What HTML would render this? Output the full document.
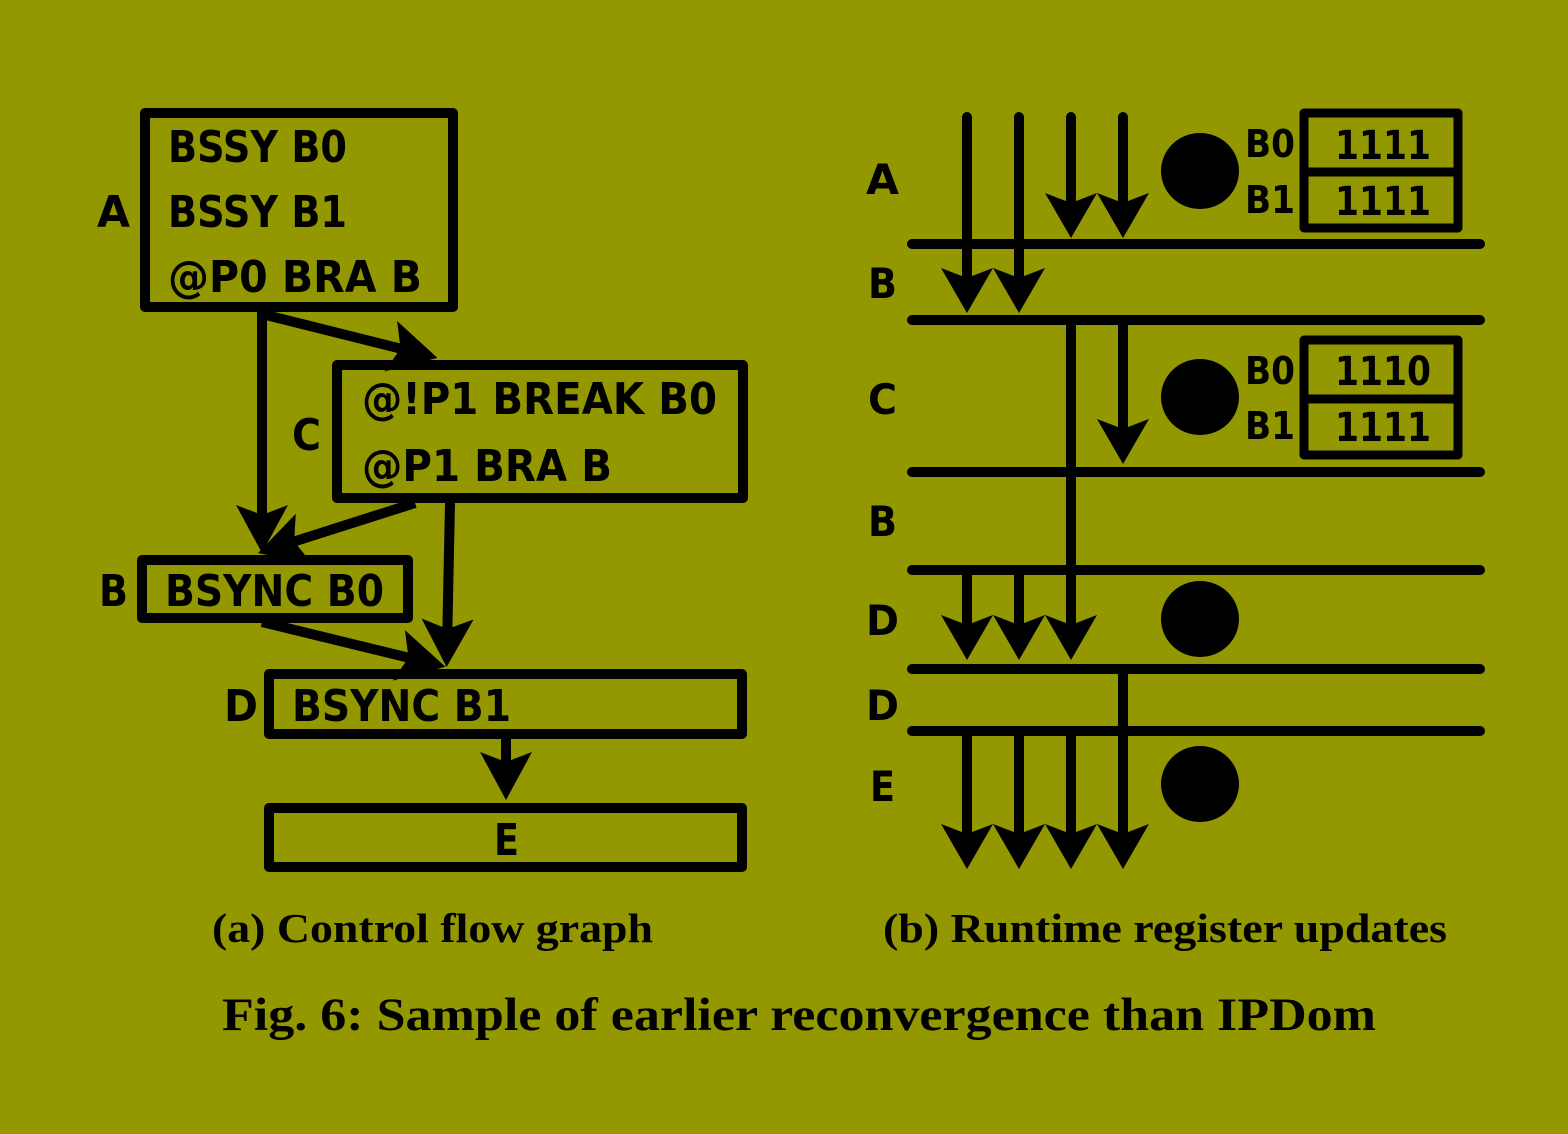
<!DOCTYPE html>
<html><head><meta charset="utf-8"><style>
html,body{margin:0;padding:0;background:#939800;}
svg{display:block;}
.t{font-family:"DejaVu Sans","Liberation Sans",sans-serif;font-weight:bold;fill:#000;}
.s{font-family:"Liberation Serif",serif;font-weight:bold;fill:#000;}
</style></head><body>
<svg width="1568" height="1134" viewBox="0 0 1568 1134" xmlns="http://www.w3.org/2000/svg">
<defs>
<marker id="ah" markerUnits="userSpaceOnUse" viewBox="-40 -30 70 60" refX="0" refY="0" markerWidth="70" markerHeight="60" orient="auto" overflow="visible">
<path d="M-28,-26 L20,0 L-28,26 L-18,0 Z" fill="#000"/>
</marker>
</defs>
<rect width="1568" height="1134" fill="#939800"/>
<g fill="none" stroke="#000" stroke-width="10" stroke-linejoin="round">
<rect x="145" y="113" width="308" height="194"/>
<rect x="337" y="365" width="406" height="133"/>
<rect x="142" y="560" width="266" height="58"/>
<rect x="269" y="674" width="473" height="60"/>
<rect x="269" y="808" width="473" height="59"/>
</g>
<g stroke="#000" stroke-width="10" marker-end="url(#ah)">
<line x1="262" y1="312" x2="262" y2="533"/>
<line x1="262" y1="314" x2="418" y2="353"/>
<line x1="415" y1="503" x2="277" y2="547"/>
<line x1="450" y1="503" x2="447" y2="647"/>
<line x1="262" y1="622" x2="426" y2="662"/>
<line x1="506" y1="739" x2="506" y2="780"/>
</g>
<text class="t" x="168" y="162" font-size="44" textLength="179" lengthAdjust="spacingAndGlyphs">BSSY B0</text>
<text class="t" x="168" y="227" font-size="44" textLength="179" lengthAdjust="spacingAndGlyphs">BSSY B1</text>
<text class="t" x="168" y="292" font-size="44" textLength="254" lengthAdjust="spacingAndGlyphs">@P0 BRA B</text>
<text class="t" x="97" y="227" font-size="44" textLength="33" lengthAdjust="spacingAndGlyphs">A</text>
<text class="t" x="362" y="414" font-size="44" textLength="355" lengthAdjust="spacingAndGlyphs">@!P1 BREAK B0</text>
<text class="t" x="362" y="481" font-size="44" textLength="250" lengthAdjust="spacingAndGlyphs">@P1 BRA B</text>
<text class="t" x="292" y="450" font-size="44" textLength="29" lengthAdjust="spacingAndGlyphs">C</text>
<text class="t" x="165" y="606" font-size="44" textLength="219" lengthAdjust="spacingAndGlyphs">BSYNC B0</text>
<text class="t" x="99" y="606" font-size="44" textLength="29" lengthAdjust="spacingAndGlyphs">B</text>
<text class="t" x="292" y="721" font-size="44" textLength="219" lengthAdjust="spacingAndGlyphs">BSYNC B1</text>
<text class="t" x="224" y="721" font-size="44" textLength="34" lengthAdjust="spacingAndGlyphs">D</text>
<text class="t" x="494" y="855" font-size="44" textLength="25" lengthAdjust="spacingAndGlyphs">E</text>

<g stroke="#000" stroke-width="10" stroke-linecap="round">
<line x1="912" y1="244" x2="1480" y2="244"/>
<line x1="912" y1="320" x2="1480" y2="320"/>
<line x1="912" y1="472" x2="1480" y2="472"/>
<line x1="912" y1="570" x2="1480" y2="570"/>
<line x1="912" y1="669" x2="1480" y2="669"/>
<line x1="912" y1="731" x2="1480" y2="731"/>
</g>
<g stroke="#000" stroke-width="10" stroke-linecap="round">
<line x1="967" y1="117" x2="967" y2="290"/>
<line x1="1019" y1="117" x2="1019" y2="290"/>
<line x1="1071" y1="117" x2="1071" y2="215"/>
<line x1="1123" y1="117" x2="1123" y2="215"/>
<line x1="1071" y1="320" x2="1071" y2="640" stroke-linecap="butt"/>
<line x1="1123" y1="320" x2="1123" y2="443" stroke-linecap="butt"/>
<line x1="967" y1="570" x2="967" y2="640" stroke-linecap="butt"/>
<line x1="1019" y1="570" x2="1019" y2="640" stroke-linecap="butt"/>
<line x1="1123" y1="669" x2="1123" y2="848" stroke-linecap="butt"/>
<line x1="967" y1="731" x2="967" y2="848" stroke-linecap="butt"/>
<line x1="1019" y1="731" x2="1019" y2="848" stroke-linecap="butt"/>
<line x1="1071" y1="731" x2="1071" y2="848" stroke-linecap="butt"/>
</g>
<g fill="#000">
<path d="M941,268 L967,278 L993,268 L967,313 Z"/>
<path d="M993,268 L1019,278 L1045,268 L1019,313 Z"/>
<path d="M1045,193 L1071,203 L1097,193 L1071,238 Z"/>
<path d="M1097,193 L1123,203 L1149,193 L1123,238 Z"/>
<path d="M1097,419 L1123,429 L1149,419 L1123,464 Z"/>
<path d="M941,615 L967,625 L993,615 L967,660 Z"/>
<path d="M993,615 L1019,625 L1045,615 L1019,660 Z"/>
<path d="M1045,615 L1071,625 L1097,615 L1071,660 Z"/>
<path d="M941,824 L967,834 L993,824 L967,869 Z"/>
<path d="M993,824 L1019,834 L1045,824 L1019,869 Z"/>
<path d="M1045,824 L1071,834 L1097,824 L1071,869 Z"/>
<path d="M1097,824 L1123,834 L1149,824 L1123,869 Z"/>
<ellipse cx="1200" cy="171" rx="39" ry="38"/>
<ellipse cx="1200" cy="397" rx="39" ry="38"/>
<ellipse cx="1200" cy="619" rx="39" ry="38"/>
<ellipse cx="1200" cy="784" rx="39" ry="38"/>
</g>
<g fill="none" stroke="#000" stroke-width="9" stroke-linejoin="round">
<rect x="1304" y="113" width="154" height="115"/>
<line x1="1304" y1="172" x2="1458" y2="172"/>
<rect x="1304" y="340" width="154" height="115"/>
<line x1="1304" y1="399" x2="1458" y2="399"/>
</g>
<text class="t" x="866" y="194" font-size="42" textLength="33" lengthAdjust="spacingAndGlyphs">A</text>
<text class="t" x="868" y="298" font-size="42" textLength="29" lengthAdjust="spacingAndGlyphs">B</text>
<text class="t" x="868" y="414" font-size="42" textLength="29" lengthAdjust="spacingAndGlyphs">C</text>
<text class="t" x="868" y="536" font-size="42" textLength="29" lengthAdjust="spacingAndGlyphs">B</text>
<text class="t" x="866" y="635" font-size="42" textLength="33" lengthAdjust="spacingAndGlyphs">D</text>
<text class="t" x="866" y="720" font-size="42" textLength="33" lengthAdjust="spacingAndGlyphs">D</text>
<text class="t" x="870" y="801" font-size="42" textLength="25" lengthAdjust="spacingAndGlyphs">E</text>
<text class="t" x="1245" y="157" font-size="38" textLength="50" lengthAdjust="spacingAndGlyphs">B0</text>
<text class="t" x="1245" y="213" font-size="38" textLength="50" lengthAdjust="spacingAndGlyphs">B1</text>
<text class="t" x="1335" y="159" font-size="40" textLength="96" lengthAdjust="spacingAndGlyphs">1111</text>
<text class="t" x="1335" y="215" font-size="40" textLength="96" lengthAdjust="spacingAndGlyphs">1111</text>
<text class="t" x="1245" y="384" font-size="38" textLength="50" lengthAdjust="spacingAndGlyphs">B0</text>
<text class="t" x="1245" y="439" font-size="38" textLength="50" lengthAdjust="spacingAndGlyphs">B1</text>
<text class="t" x="1335" y="385" font-size="40" textLength="96" lengthAdjust="spacingAndGlyphs">1110</text>
<text class="t" x="1335" y="441" font-size="40" textLength="96" lengthAdjust="spacingAndGlyphs">1111</text>

<text class="s" x="212" y="942" font-size="41" textLength="441" lengthAdjust="spacingAndGlyphs">(a) Control flow graph</text>
<text class="s" x="883" y="942" font-size="41" textLength="564" lengthAdjust="spacingAndGlyphs">(b) Runtime register updates</text>
<text class="s" x="222" y="1030" font-size="47" textLength="1154" lengthAdjust="spacingAndGlyphs">Fig. 6: Sample of earlier reconvergence than IPDom</text>
</svg>
</body></html>
